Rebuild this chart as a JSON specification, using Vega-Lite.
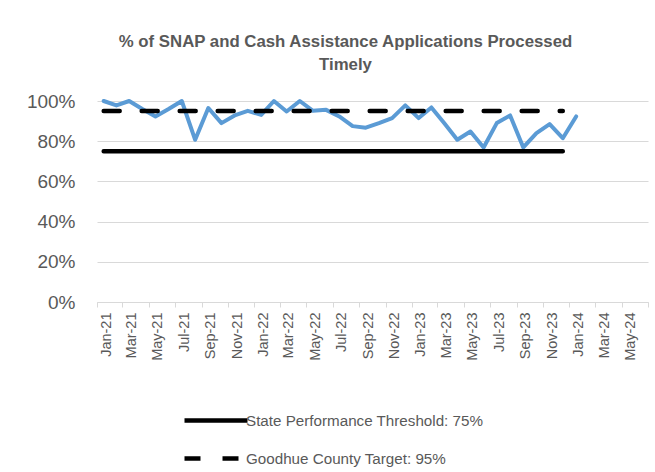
{
  "$schema": "https://vega.github.io/schema/vega-lite/v6.json",
  "width": 551,
  "height": 201,
  "autosize": {"type": "none"},
  "padding": {"left": 97, "top": 101, "right": 7, "bottom": 170},
  "background": "white",
  "title": {
    "text": ["% of SNAP and Cash Assistance Applications Processed", "Timely"],
    "anchor": "middle",
    "frame": "group",
    "dx": -27,
    "offset": 18,
    "font": "Liberation Sans",
    "fontSize": 16.8,
    "fontWeight": "bold",
    "color": "#595959",
    "lineHeight": 23
  },
  "datasets": {
    "timely": [
      {"month": "2021-01-01", "value": 1.0},
      {"month": "2021-02-01", "value": 0.978},
      {"month": "2021-03-01", "value": 1.0},
      {"month": "2021-04-01", "value": 0.96},
      {"month": "2021-05-01", "value": 0.923},
      {"month": "2021-06-01", "value": 0.96},
      {"month": "2021-07-01", "value": 1.0},
      {"month": "2021-08-01", "value": 0.807},
      {"month": "2021-09-01", "value": 0.965},
      {"month": "2021-10-01", "value": 0.89},
      {"month": "2021-11-01", "value": 0.928},
      {"month": "2021-12-01", "value": 0.951},
      {"month": "2022-01-01", "value": 0.931},
      {"month": "2022-02-01", "value": 1.0},
      {"month": "2022-03-01", "value": 0.948},
      {"month": "2022-04-01", "value": 1.0},
      {"month": "2022-05-01", "value": 0.951},
      {"month": "2022-06-01", "value": 0.956},
      {"month": "2022-07-01", "value": 0.923},
      {"month": "2022-08-01", "value": 0.875},
      {"month": "2022-09-01", "value": 0.867},
      {"month": "2022-10-01", "value": 0.89},
      {"month": "2022-11-01", "value": 0.915},
      {"month": "2022-12-01", "value": 0.978},
      {"month": "2023-01-01", "value": 0.915},
      {"month": "2023-02-01", "value": 0.968},
      {"month": "2023-03-01", "value": 0.89},
      {"month": "2023-04-01", "value": 0.807},
      {"month": "2023-05-01", "value": 0.848},
      {"month": "2023-06-01", "value": 0.769},
      {"month": "2023-07-01", "value": 0.89},
      {"month": "2023-08-01", "value": 0.928},
      {"month": "2023-09-01", "value": 0.769},
      {"month": "2023-10-01", "value": 0.84},
      {"month": "2023-11-01", "value": 0.885},
      {"month": "2023-12-01", "value": 0.815},
      {"month": "2024-01-01", "value": 0.923}
    ],
    "thresholds": [
      {"series": "State Performance Threshold: 75%", "month": "2021-01-01", "value": 0.75},
      {"series": "State Performance Threshold: 75%", "month": "2023-12-01", "value": 0.75},
      {"series": "Goodhue County Target: 95%", "month": "2021-01-01", "value": 0.95},
      {"series": "Goodhue County Target: 95%", "month": "2023-12-01", "value": 0.95}
    ]
  },
  "encoding": {
    "x": {
      "field": "month",
      "type": "temporal",
      "timeUnit": "utcyearmonth",
      "bandPosition": 0.5,
      "scale": {
        "domain": [
          {"year": 2021, "month": 1, "date": 1, "utc": true},
          {"year": 2024, "month": 7, "date": 1, "utc": true}
        ]
      },
      "axis": {
        "title": null,
        "values": [
          {"year": 2021, "month": 1, "date": 1, "utc": true},
          {"year": 2021, "month": 3, "date": 1, "utc": true},
          {"year": 2021, "month": 5, "date": 1, "utc": true},
          {"year": 2021, "month": 7, "date": 1, "utc": true},
          {"year": 2021, "month": 9, "date": 1, "utc": true},
          {"year": 2021, "month": 11, "date": 1, "utc": true},
          {"year": 2022, "month": 1, "date": 1, "utc": true},
          {"year": 2022, "month": 3, "date": 1, "utc": true},
          {"year": 2022, "month": 5, "date": 1, "utc": true},
          {"year": 2022, "month": 7, "date": 1, "utc": true},
          {"year": 2022, "month": 9, "date": 1, "utc": true},
          {"year": 2022, "month": 11, "date": 1, "utc": true},
          {"year": 2023, "month": 1, "date": 1, "utc": true},
          {"year": 2023, "month": 3, "date": 1, "utc": true},
          {"year": 2023, "month": 5, "date": 1, "utc": true},
          {"year": 2023, "month": 7, "date": 1, "utc": true},
          {"year": 2023, "month": 9, "date": 1, "utc": true},
          {"year": 2023, "month": 11, "date": 1, "utc": true},
          {"year": 2024, "month": 1, "date": 1, "utc": true},
          {"year": 2024, "month": 3, "date": 1, "utc": true},
          {"year": 2024, "month": 5, "date": 1, "utc": true},
          {"year": 2024, "month": 7, "date": 1, "utc": true}
        ],
        "labelExpr": "utcFormat(datum.value, '%b-%y') == 'Jul-24' ? '' : utcFormat(datum.value, '%b-%y')",
        "labelAngle": -90,
        "labelOffset": 9,
        "labelPadding": 5,
        "grid": false,
        "ticks": true,
        "tickSize": 5,
        "tickColor": "#D9D9D9",
        "domainColor": "#D9D9D9",
        "domainWidth": 1,
        "labelFont": "Liberation Sans",
        "labelFontSize": 14.5,
        "labelColor": "#595959",
        "labelOverlap": false
      }
    },
    "y": {
      "field": "value",
      "type": "quantitative",
      "scale": {"domain": [0, 1]},
      "axis": {
        "title": null,
        "format": ".0%",
        "values": [0, 0.2, 0.4, 0.6, 0.8, 1],
        "ticks": false,
        "domain": false,
        "grid": true,
        "gridColor": "#D9D9D9",
        "gridWidth": 1,
        "labelPadding": 22,
        "labelFont": "Liberation Sans",
        "labelFontSize": 19,
        "labelColor": "#595959"
      }
    }
  },
  "layer": [
    {
      "data": {"name": "timely"},
      "mark": {"type": "line", "color": "#5B9BD5", "strokeWidth": 4, "strokeJoin": "round", "strokeCap": "round"}
    },
    {
      "data": {"name": "thresholds"},
      "mark": {"type": "line", "strokeWidth": 4.5, "strokeCap": "round"},
      "encoding": {
        "color": {
          "field": "series",
          "type": "nominal",
          "sort": ["State Performance Threshold: 75%", "Goodhue County Target: 95%"],
          "scale": {
            "domain": ["State Performance Threshold: 75%", "Goodhue County Target: 95%"],
            "range": ["#000000", "#000000"]
          },
          "legend": {"title": null}
        },
        "strokeDash": {
          "field": "series",
          "type": "nominal",
          "sort": ["State Performance Threshold: 75%", "Goodhue County Target: 95%"],
          "scale": {
            "domain": ["State Performance Threshold: 75%", "Goodhue County Target: 95%"],
            "range": [[1, 0], [16, 22]]
          },
          "legend": {"title": null}
        }
      }
    }
  ],
  "config": {
    "view": {"stroke": null},
    "legend": {
      "orient": "none",
      "legendX": 85,
      "legendY": 312,
      "direction": "vertical",
      "symbolType": "stroke",
      "symbolSize": 3969,
      "symbolStrokeWidth": 4.5,
      "symbolStrokeColor": "#000000",
      "clipHeight": 15,
      "rowPadding": 22,
      "labelOffset": -4,
      "labelLimit": 0,
      "labelFont": "Liberation Sans",
      "labelFontSize": 15.2,
      "labelColor": "#595959",
      "padding": 0
    }
  }
}
